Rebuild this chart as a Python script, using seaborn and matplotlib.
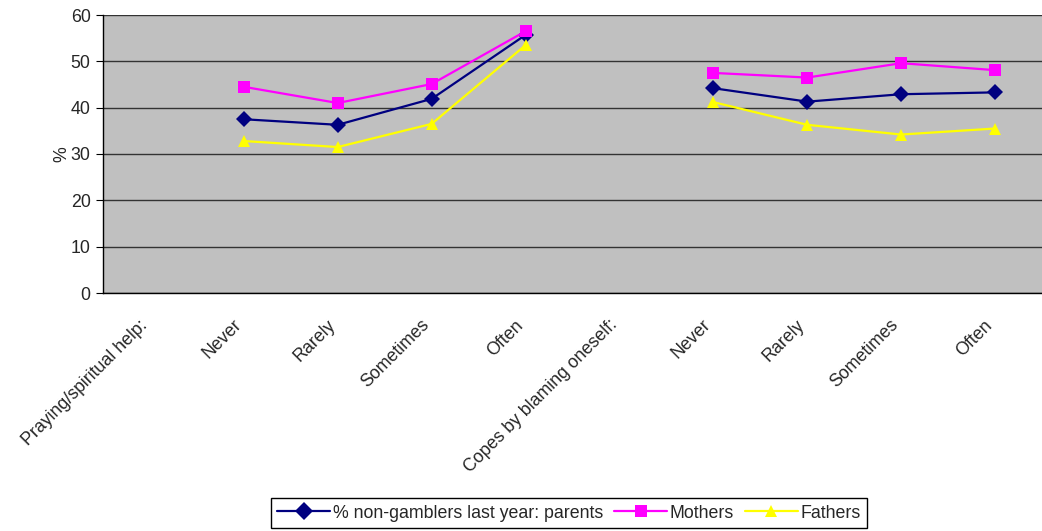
import numpy as np
import pandas as pd
import seaborn as sns
import matplotlib.pyplot as plt
from matplotlib.ticker import MultipleLocator
from matplotlib.transforms import ScaledTranslation

categories = ["Praying/spiritual help:", "Never", "Rarely", "Sometimes", "Often",
              "Copes by blaming oneself:", "Never", "Rarely", "Sometimes", "Often"]
series_names = ["% non-gamblers last year: parents", "Mothers", "Fathers"]

parents = [np.nan, 37.5, 36.3, 41.9, 55.7, np.nan, 44.2, 41.3, 42.9, 43.3]
mothers = [np.nan, 44.5, 41.0, 45.1, 56.5, np.nan, 47.5, 46.5, 49.6, 48.1]
fathers = [np.nan, 32.8, 31.5, 36.5, 53.5, np.nan, 41.2, 36.3, 34.2, 35.5]

colors = ["#000080", "#FF00FF", "#FFFF00"]
markers = ["D", "s", "^"]

# long table; section id splits the two question blocks so lines don't join
rows = []
for name, vals in zip(series_names, [parents, mothers, fathers]):
    for i, v in enumerate(vals):
        rows.append({"pos": i, "value": v, "series": name, "section": 0 if i < 5 else 1})
df = pd.DataFrame(rows).dropna()

sns.set_style("white")
plt.rcParams["font.family"] = ["Liberation Sans", "DejaVu Sans"]
fs = 12.8

fig = plt.figure(figsize=(10.42, 5.31), dpi=100)
ax = fig.add_axes([103 / 1042, 1 - 293 / 531, 939 / 1042, 278 / 531])
ax.set_facecolor("#C0C0C0")

sns.lineplot(data=df, x="pos", y="value", hue="series", style="series",
             units="section", estimator=None, hue_order=series_names,
             style_order=series_names, palette=colors, markers=markers,
             dashes=False, markersize=8.5, linewidth=1.6, markeredgewidth=0,
             ax=ax, legend=False, zorder=3)

ax.set_xlim(-0.5, len(categories) - 0.5)
ax.set_ylim(0, 60)
ax.yaxis.set_major_locator(MultipleLocator(10))
ax.grid(axis="y", color="#333333", linewidth=1)
ax.set_axisbelow(True)

ax.set_xticks(range(len(categories)))
ax.set_xticklabels(categories, rotation=45, ha="right", rotation_mode="anchor", fontsize=fs)
ax.set_xticks(np.arange(-0.5, len(categories), 1), minor=True)
ax.tick_params(axis="x", which="major", length=0, pad=17)
ax.tick_params(axis="x", which="minor", length=5, color="black", direction="out")
ax.tick_params(axis="y", length=5, color="black", direction="out", labelsize=fs, left=True, pad=4)
shift = ScaledTranslation(-11 / 100, 0, fig.dpi_scale_trans)
for lab in ax.get_xticklabels():
    lab.set_transform(lab.get_transform() + shift)
ax.set_xlabel("")
ax.set_ylabel("%", fontsize=fs, labelpad=0)

for side in ["top", "right"]:
    ax.spines[side].set_visible(False)
for side in ["left", "bottom"]:
    ax.spines[side].set_color("black")
    ax.spines[side].set_linewidth(1)

handles = [plt.Line2D([], [], color=c, marker=m, markersize=9, linewidth=1.6, markeredgewidth=0)
           for c, m in zip(colors, markers)]
leg = fig.legend(handles, series_names, loc="center", bbox_to_anchor=(569 / 1042, 1 - 513 / 531),
                 ncol=3, fontsize=fs, frameon=True, fancybox=False, framealpha=1,
                 edgecolor="black", handlelength=3.0, handletextpad=0.15, columnspacing=0.6,
                 borderpad=0.35, borderaxespad=0)
leg.get_frame().set_linewidth(1)

fig.savefig("out.png", dpi=100)
